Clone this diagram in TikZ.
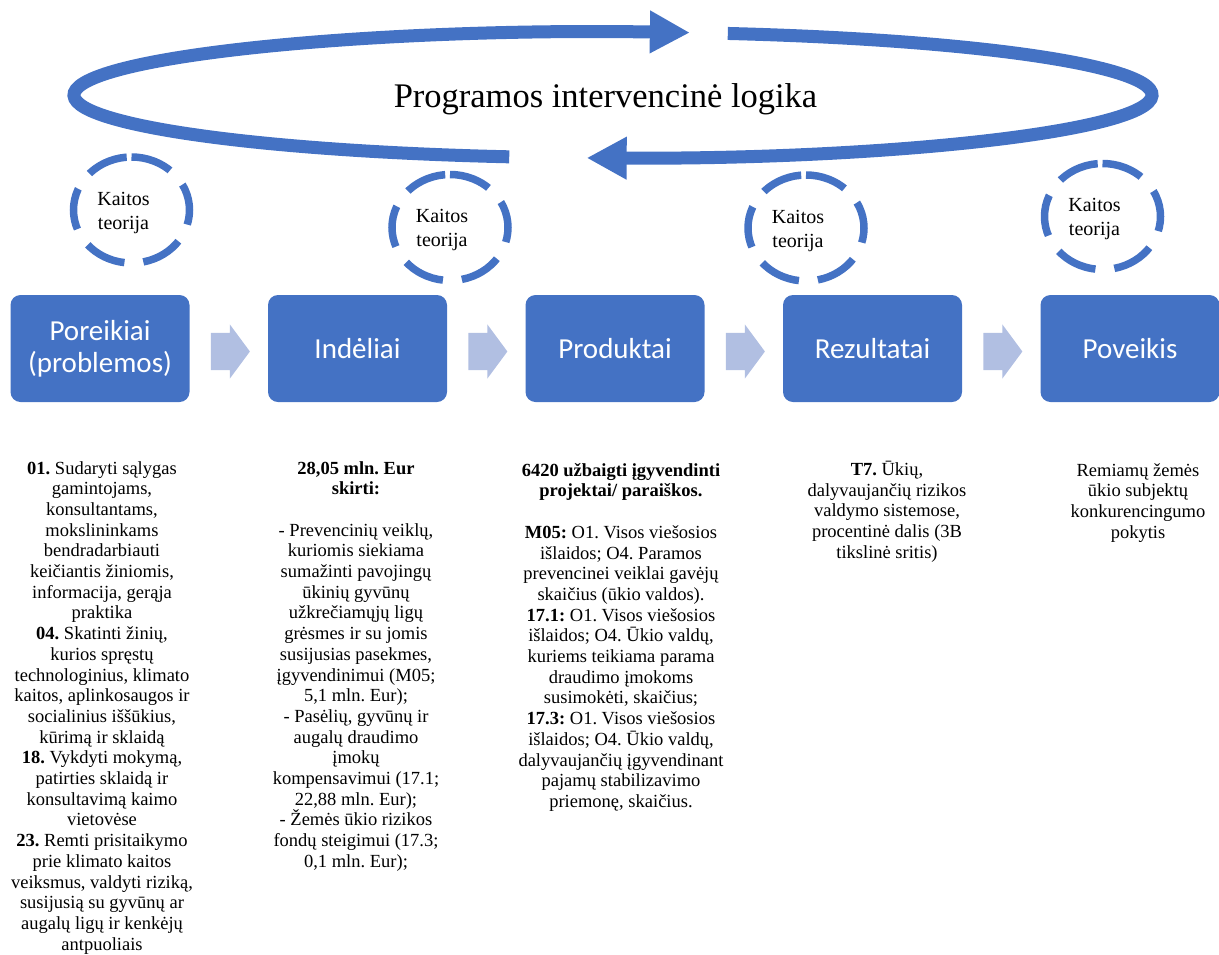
\documentclass[tikz,border=0pt]{standalone}
\usepackage{fontspec}
\setmainfont{Liberation Serif}
\newfontfamily\boxfont{Carlito}
\usetikzlibrary{arrows.meta,shapes.arrows,calc}
\definecolor{officeblue}{HTML}{4472C4}
\definecolor{chevronblue}{HTML}{B1BFE2}
\frenchspacing
\begin{document}
\begin{tikzpicture}[x=1pt,y=1pt,line cap=butt,
  stage/.style={rectangle,rounded corners=10pt,fill=officeblue,
    minimum width=179pt,minimum height=107pt,text=white,align=center,
    font=\boxfont\fontsize{29}{32}\selectfont},
  stagearrow/.style={single arrow,fill=chevronblue,inner xsep=0pt,inner ysep=18.5pt,
    minimum height=39pt,single arrow head extend=8.5pt,single arrow tip angle=107,
    anchor=tail},
  loopband/.style={draw=officeblue,line width=13pt,
    -{Triangle[length=40pt,width=40pt]}},
  kaitos/.style={draw=officeblue,line width=7.5pt,dash pattern=on 41.5pt off 19pt},
  kaitostext/.style={align=center,font=\fontsize{20}{24}\selectfont},
  note/.style={anchor=north,align=center,inner sep=0pt,
    font=\fontsize{18.5}{20.7}\selectfont}]
  \useasboundingbox (0,0) rectangle (1219,-954);

  % loop of the intervention logic
  \coordinate (loop) at (613,-95);
  \draw[loopband] ([shift={(258.9:539pt and 63pt)}]loop)
    arc[start angle=258.9,end angle=81.8,x radius=539pt,y radius=63pt];
  \draw[loopband] ([shift={(77.7:539pt and 63pt)}]loop)
    arc[start angle=77.7,end angle=-92.8,x radius=539pt,y radius=63pt];
  \node[anchor=base,font=\fontsize{34.5}{38}\selectfont] (title) at (605.5,-107)
    {Programos intervencinė logika};

  % theory of change circles
  \foreach \i/\cx/\cy in {1/131.5/210,2/450/227.5,3/806/228,4/1102.5/216.5} {
    \coordinate (c\i) at (\cx,-\cy);
    \draw[kaitos] (c\i) ++(0,53)
      arc[start angle=90,end angle=-270,x radius=58pt,y radius=53pt];
    \node[kaitostext] (k\i) at ([shift={(-8,-3)}]c\i) {Kaitos\\teorija};
  }

  % stages
  \foreach \i/\cx/\label in {1/100/{Poreikiai\\(problemos)},2/357.5/Indėliai,
    3/615/Produktai,4/872.5/Rezultatai,5/1130/Poveikis}
    \node[stage] (b\i) at (\cx,-348.5) {\label};
  \foreach \a in {1,2,3,4}
    \node[stagearrow] (a\a) at ($(b\a.east)+(21,-3)$) {};

  % descriptions
  \node[note] (n1) at (102,-461) {\textbf{01.} Sudaryti sąlygas\\gamintojams,\\
    konsultantams,\\mokslininkams\\bendradarbiauti\\keičiantis žiniomis,\\
    informacija, gerąja\\praktika\\\textbf{04.} Skatinti žinių,\\kurios spręstų\\
    technologinius, klimato\\kaitos, aplinkosaugos ir\\socialinius iššūkius,\\
    kūrimą ir sklaidą\\\textbf{18.} Vykdyti mokymą,\\patirties sklaidą ir\\
    konsultavimą kaimo\\vietovėse\\\textbf{23.} Remti prisitaikymo\\
    prie klimato kaitos\\veiksmus, valdyti riziką,\\susijusią su gyvūnų ar\\
    augalų ligų ir kenkėjų\\antpuoliais};
  \node[note] (n2) at (356,-461) {\textbf{28,05 mln. Eur}\\\textbf{skirti:}\\\mbox{}\\
    - Prevencinių veiklų,\\kuriomis siekiama\\sumažinti pavojingų\\ūkinių gyvūnų\\
    užkrečiamųjų ligų\\grėsmes ir su jomis\\susijusias pasekmes,\\
    įgyvendinimui (M05;\\5,1 mln. Eur);\\- Pasėlių, gyvūnų ir\\augalų draudimo\\
    įmokų\\kompensavimui (17.1;\\22,88 mln. Eur);\\- Žemės ūkio rizikos\\
    fondų steigimui (17.3;\\0,1 mln. Eur);};
  \node[note] (n3) at (621,-463) {\textbf{6420 užbaigti įgyvendinti}\\
    \textbf{projektai/ paraiškos.}\\\mbox{}\\
    \textbf{M05:} O1. Visos viešosios\\išlaidos; O4. Paramos\\
    prevencinei veiklai gavėjų\\skaičius (ūkio valdos).\\
    \textbf{17.1:} O1. Visos viešosios\\išlaidos; O4. Ūkio valdų,\\
    kuriems teikiama parama\\draudimo įmokoms\\susimokėti, skaičius;\\
    \textbf{17.3:} O1. Visos viešosios\\išlaidos; O4. Ūkio valdų,\\
    dalyvaujančių įgyvendinant\\pajamų stabilizavimo\\priemonę, skaičius.};
  \node[note] (n4) at (887,-461) {\textbf{T7.} Ūkių,\\dalyvaujančių rizikos\\
    valdymo sistemose,\\procentinė dalis (3B\\tikslinė sritis)};
  \node[note] (n5) at (1138,-463) {Remiamų žemės\\ūkio subjektų\\
    konkurencingumo\\pokytis};
\end{tikzpicture}
\end{document}
